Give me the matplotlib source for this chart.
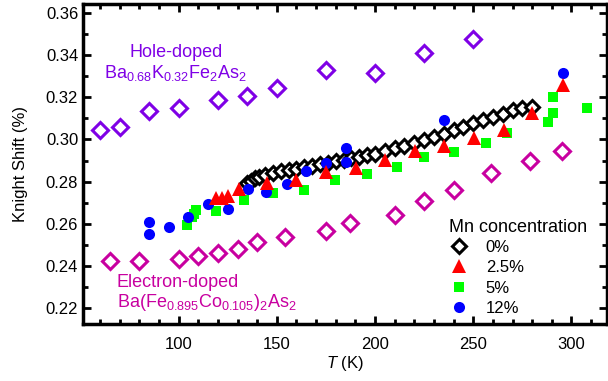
import matplotlib
matplotlib.use("Agg")
import matplotlib.pyplot as plt
from matplotlib.ticker import MultipleLocator

plt.rcParams['font.family'] = ['Liberation Sans', 'DejaVu Sans']
plt.rcParams['mathtext.fontset'] = 'custom'
plt.rcParams['mathtext.rm'] = 'Liberation Sans'
plt.rcParams['mathtext.it'] = 'Liberation Sans:italic'

# Hole-doped Ba0.68K0.32Fe2As2
hole_T = [60, 70, 85, 100, 120, 135, 150, 175, 200, 225, 250]
hole_K = [0.3044, 0.3060, 0.3134, 0.3150, 0.3187, 0.3206, 0.3242, 0.3329, 0.3314, 0.3409, 0.3478]

# Electron-doped Ba(Fe0.895Co0.105)2As2
elec_T = [65, 80, 100, 110, 120, 130, 140, 154, 175, 187, 210, 225, 240, 259, 279, 295]
elec_K = [0.2423, 0.2422, 0.2433, 0.2446, 0.2461, 0.2482, 0.2514, 0.2537, 0.2566, 0.2606,
          0.2644, 0.2708, 0.2762, 0.2841, 0.2898, 0.2946]

# Mn 0%
mn0_T = [135, 137, 139, 141, 144, 148, 152, 156, 160, 164, 168, 172, 176, 180, 184, 188, 192,
         196, 200, 205, 210, 215, 220, 225, 230, 235, 240, 245, 250, 255, 260, 265, 270, 275, 280]
mn0_K = [0.2792, 0.2805, 0.2815, 0.2822, 0.2832, 0.2840, 0.2848, 0.2855, 0.2862, 0.2868,
         0.2875, 0.2883, 0.2890, 0.2897, 0.2903, 0.2910, 0.2917, 0.2925, 0.2933, 0.2945,
         0.2957, 0.2970, 0.2982, 0.2997, 0.3012, 0.3028, 0.3045, 0.3060, 0.3076, 0.3092,
         0.3107, 0.3122, 0.3138, 0.3148, 0.3155]

# Mn 2.5%
mn25_T = [119, 122, 125, 130.5, 145, 160, 175, 190.5, 205, 220.5, 235, 250.5, 265.5, 280, 295.5]
mn25_K = [0.2720, 0.2724, 0.2732, 0.2767, 0.2793, 0.2810, 0.2846, 0.2865, 0.2902, 0.2946,
          0.2968, 0.3009, 0.3044, 0.3124, 0.3258]

# Mn 5%
mn5_T = [104.5, 106.7, 108, 109, 119, 133.3, 148.2, 163.8, 179.8, 195.7, 211.3, 225, 240,
         256.3, 267, 288, 290.4, 290.4, 307.7]
mn5_K = [0.2593, 0.2632, 0.2648, 0.2664, 0.2661, 0.2715, 0.2748, 0.2759, 0.2807, 0.2838,
         0.2871, 0.2919, 0.2941, 0.2984, 0.3029, 0.3084, 0.3124, 0.3202, 0.3150]

# Mn 12%
mn12_T = [85, 85, 95, 105, 115, 125, 135.5, 144.5, 155, 165, 175, 185, 185, 235, 295.5]
mn12_K = [0.2609, 0.2553, 0.2585, 0.2632, 0.2696, 0.2672, 0.2767, 0.2751, 0.2787, 0.2851,
          0.2889, 0.2960, 0.2895, 0.3092, 0.3316]

legend_labels = ['0%', '2.5%', '5%', '12%']

c_hole = '#7F00E6'
c_elec = '#C800A0'

fig = plt.figure(figsize=(6.08, 3.81), dpi=100)
ax = fig.add_axes([0.1365, 0.1496, 0.8615, 0.8399])

ax.plot(hole_T, hole_K, ls='none', marker='D', ms=8, mfc='white', mec=c_hole, mew=2.2)
ax.plot(elec_T, elec_K, ls='none', marker='D', ms=8, mfc='white', mec=c_elec, mew=2.2)

h0, = ax.plot(mn0_T, mn0_K, ls='none', marker='D', ms=7.5, mfc='white', mec='black', mew=2.2)
h5, = ax.plot(mn5_T, mn5_K, ls='none', marker='s', ms=7.5, color='#00FF00', mew=0)
h12, = ax.plot(mn12_T, mn12_K, ls='none', marker='o', ms=8, color='#0000FF', mew=0)
h25, = ax.plot(mn25_T, mn25_K, ls='none', marker='^', ms=9.5, color='#FF0000', mew=0)

ax.set_xlim(51.3, 318)
ax.set_ylim(0.2125, 0.3642)

ax.xaxis.set_major_locator(MultipleLocator(50))
ax.xaxis.set_minor_locator(MultipleLocator(10))
ax.yaxis.set_major_locator(MultipleLocator(0.02))
ax.yaxis.set_minor_locator(MultipleLocator(0.01))
ax.yaxis.set_major_formatter(plt.FuncFormatter(lambda v, p: f'{v:.2f}'))
ax.tick_params(which='both', direction='in', top=True, right=True, width=2, labelsize=12)
ax.tick_params(which='major', length=6)
ax.tick_params(which='minor', length=3.5)
ax.tick_params(axis='x', which='major', pad=9)
for s in ax.spines.values():
    s.set_linewidth(2.5)

ax.set_xlabel(r'$\mathit{T}$ (K)', fontsize=12, labelpad=2)
ax.set_ylabel('Knight Shift (%)', fontsize=12, labelpad=13)

ax.text(98.5, 0.3413, 'Hole-doped', color=c_hole, fontsize=13, ha='center', va='center')
ax.text(98.5, 0.3316, r'Ba$_{0.68}$K$_{0.32}$Fe$_2$As$_2$', color=c_hole, fontsize=13,
        ha='center', va='center')
ax.text(68.6, 0.2324, 'Electron-doped', color=c_elec, fontsize=13, ha='left', va='center')
ax.text(68.6, 0.2226, r'Ba(Fe$_{0.895}$Co$_{0.105}$)$_2$As$_2$', color=c_elec, fontsize=13,
        ha='left', va='center')

leg = ax.legend([h0, h25, h5, h12], legend_labels, title='Mn concentration', frameon=False,
                fontsize=12, title_fontsize=13, loc='lower right',
                bbox_to_anchor=(0.985, -0.012), handlelength=1.2, handletextpad=1.0,
                labelspacing=0.33, borderpad=0.2)
leg._legend_box.align = 'left'
leg._legend_box.sep = 3

fig.savefig('out.png', dpi=100)
